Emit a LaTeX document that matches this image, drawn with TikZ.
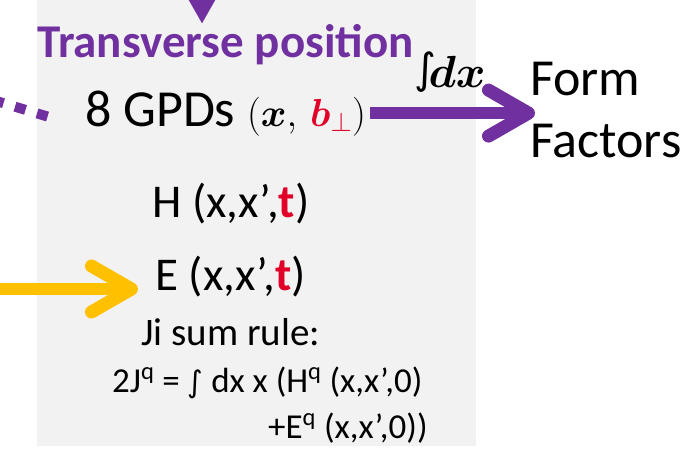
\RequirePackage{fix-cm}
\documentclass[tikz,border=0pt]{standalone}
\usepackage{fontspec}
\usepackage{amsmath}
\usepackage{bm}
\setmainfont{Carlito}
\newfontfamily\symfnt{DejaVu Sans}
\usetikzlibrary{positioning, arrows.meta, calc}
\definecolor{gpdpurple}{HTML}{7030A0}
\definecolor{sumyellow}{HTML}{FFC000}
\definecolor{gpdred}{HTML}{E00028}
\definecolor{panelgrey}{HTML}{F2F2F2}
\tikzset{
  panelbox/.style={fill=panelgrey, draw=none, inner sep=0pt, anchor=north west},
  headtxt/.style={text=gpdpurple, font=\fontsize{47}{56}\selectfont\bfseries,
                  inner sep=0pt, anchor=base west},
  bigtxt/.style={text=black, font=\fontsize{52}{62}\selectfont, inner sep=0pt,
                 anchor=base west},
  gpdtxt/.style={text=black, font=\fontsize{47}{56}\selectfont, inner sep=0pt,
                 anchor=base west},
  sumtxt/.style={text=black, font=\fontsize{35}{42}\selectfont, inner sep=0pt,
                 anchor=base west},
  purplearr/.style={-{Straight Barb[length=40pt, width=46pt, line width=13pt, round]},
                    draw=gpdpurple, line width=12pt},
  yellowarr/.style={-{Straight Barb[length=40pt, width=46pt, line width=13pt, round]},
                    draw=sumyellow, line width=12pt},
  dotlink/.style={draw=gpdpurple, line width=10pt, dash pattern=on 11pt off 12pt},
}
\newcommand{\redt}{{\bfseries\color{gpdred}t}}
\newcommand{\intsym}{{\symfnt\char"222B}}

\begin{document}
\begin{tikzpicture}[x=1pt, y=-1pt]
  \useasboundingbox (0,0) rectangle (693,448);
  \node[panelbox, minimum width=439pt, minimum height=446pt] (panel) at (37,0) {};
  \node[headtxt] (title) at (37,57) {Transverse position};
  \node[bigtxt] (gpds) at (85,126)
    {8 GPDs {\fontsize{39}{44}\selectfont
     $(\boldsymbol{x},\,\textcolor{gpdred}{\boldsymbol{b}_{\perp}})$}};
  \node[anchor=base west, inner sep=0pt, font=\fontsize{45}{50}\selectfont] (intdx)
    at (414,87) {\raisebox{4pt}{\fontsize{42}{46}\selectfont\intsym}$\!\boldsymbol{dx}$};
  \node[bigtxt, align=left] (ff) at (530,157) {Form\\Factors};
  \node[gpdtxt] (hgpd) at (152,217) {H (x,x’,\redt)};
  \node[gpdtxt] (egpd) at (155,290) {E (x,x’,\redt)};
  \node[sumtxt, font=\fontsize{39}{46}\selectfont] (ji) at (141,345) {Ji sum rule:};
  \node[sumtxt] (sumA) at (112,392)
    {2J\textsuperscript{q} = {\fontsize{30}{36}\selectfont\intsym} dx x (H\textsuperscript{q} (x,x’,0)};
  \node[sumtxt] (sumB) at (268,438) {+E\textsuperscript{q} (x,x’,0))};
  % connectors
  \coordinate (topin) at (202,-30);
  \coordinate (dotin) at (-7,100);
  \coordinate (dotend) at (49,117);
  \coordinate (yelin) at (-10,289);
  \draw[gpdpurple, line width=12pt, -{Triangle[length=24pt, width=25pt]}]
    (topin) -- (topin |- title.north);
  \draw[dotlink] (dotin) -- (dotend);
  \draw[purplearr, shorten <=4pt, shorten >=-5pt] (gpds.east) -- (gpds.east -| ff.west);
  \draw[yellowarr, shorten >=17pt] (yelin) -- (yelin -| egpd.west);
\end{tikzpicture}
\end{document}
